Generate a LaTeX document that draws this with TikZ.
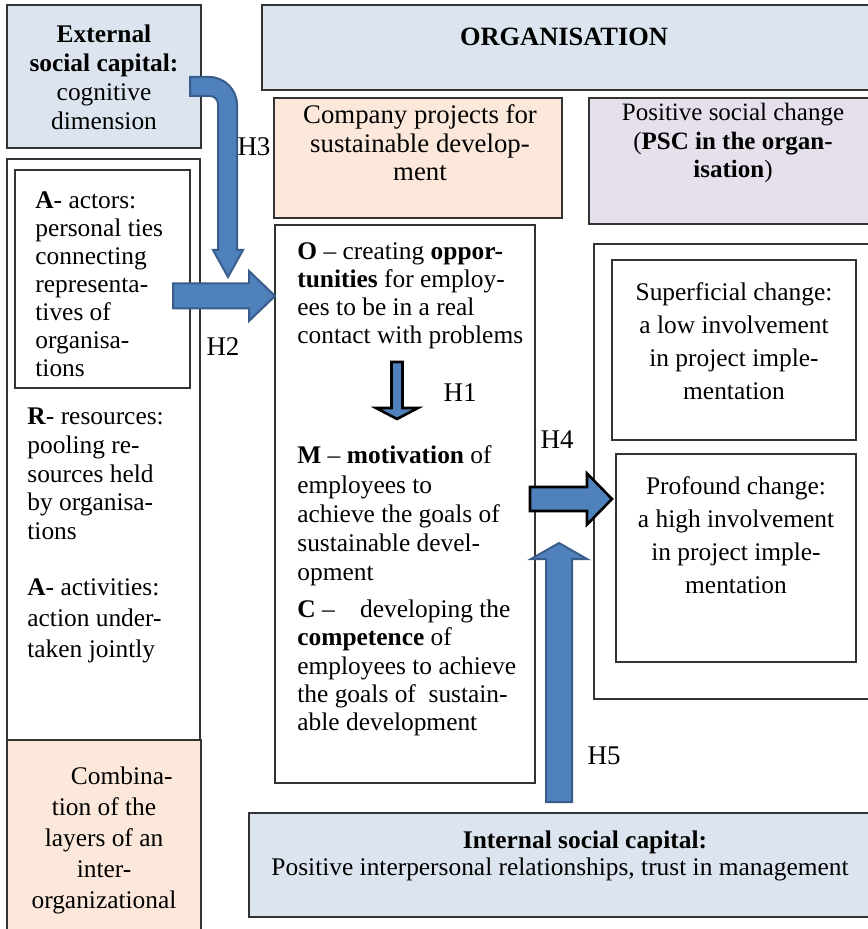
\documentclass[tikz,border=0pt]{standalone}
\usepackage{fontspec}
\setmainfont{Liberation Serif}
\usetikzlibrary{calc}
\definecolor{capblue}{RGB}{220,229,239}
\definecolor{projpeach}{RGB}{252,232,218}
\definecolor{psclilac}{RGB}{229,224,236}
\definecolor{arrowblue}{RGB}{79,129,189}
\definecolor{arrowedge}{RGB}{56,93,138}

\begin{document}
\begin{tikzpicture}[x=0.5pt, y=-0.5pt]
    % Define styles
    \tikzset{
        box/.style={draw=black!80, line width=0.75pt, inner sep=0pt, outer sep=0pt},
        capbox/.style={box, fill=capblue},
        projbox/.style={box, fill=projpeach},
        pscbox/.style={box, fill=psclilac},
        txt/.style={inner sep=0pt, align=center, font=\fontsize{12.7}{14.3}\selectfont},
        lefttxt/.style={txt, anchor=west, align=left},
        hlabel/.style={inner sep=0pt, font=\fontsize{13.5}{15}\selectfont},
        blockarrow/.style={fill=arrowblue, draw=arrowedge, line width=1pt, line join=miter},
        darkarrow/.style={fill=arrowblue, draw=black, line width=1.3pt, line join=miter}
    }
    \useasboundingbox (0,0) rectangle (867,929);

    % Boxes
    \node[capbox, minimum width=97pt, minimum height=71.5pt] (ext) at (104,76.5) {};
    \node[capbox, minimum width=309pt, minimum height=42.5pt] (org) at (571,47.5) {};
    \node[projbox, minimum width=144pt, minimum height=60pt] (proj) at (418,158) {};
    \node[pscbox, minimum width=145.5pt, minimum height=63pt] (psc) at (734.5,161) {};
    \node[box, minimum width=96.5pt, minimum height=290.5pt] (lbox) at (103.5,449.5) {};
    \node[box, minimum width=87.5pt, minimum height=109pt] (actors) at (102.5,279) {};
    \node[projbox, minimum width=97pt, minimum height=97.5pt] (comb) at (104,837.5) {};
    \node[box, minimum width=130pt, minimum height=279pt] (ctr) at (405,504) {};
    \node[box, minimum width=143pt, minimum height=227.5pt] (chg) at (737,471.5) {};
    \node[box, minimum width=122pt, minimum height=90pt] (sup) at (734,350) {};
    \node[box, minimum width=120pt, minimum height=104pt] (prof) at (736,558) {};
    \node[capbox, minimum width=315.5pt, minimum height=52pt] (isc) at (564.5,865) {};

    % Block arrows
    \coordinate (h3tail) at (190,86.5);
    \coordinate (h3tip) at (228,277);
    \draw[blockarrow] ($(h3tail)+(0,-9.5)$) -- ++(19,0) arc[start angle=90, end angle=0, radius=14pt]
        -- ($(h3tip)+(9,-27)$) -- ++(6,0) -- (h3tip) -- ++(-15,-27) -- ++(5,0)
        -- ($(h3tail)+(28,17.5)$) arc[start angle=0, end angle=90, radius=4pt]
        -- ($(h3tail)+(0,9.5)$) -- cycle;

    \coordinate (h2tail) at (173,296);
    \coordinate (h2tip) at (ctr.west |- h2tail);
    \draw[blockarrow] ($(h2tail)+(0,-12.5)$) -- ($(h2tip)+(-26,-12.5)$) -- ($(h2tip)+(-26,-25)$)
        -- (h2tip) -- ($(h2tip)+(-26,25)$) -- ($(h2tip)+(-26,12.5)$) -- ($(h2tail)+(0,12.5)$) -- cycle;

    \coordinate (h1tail) at (397,362);
    \coordinate (h1tip) at (397,419);
    \draw[darkarrow] ($(h1tail)+(-5.5,0)$) -- ($(h1tip)+(-5.5,-11)$) -- ($(h1tip)+(-21,-11)$)
        -- (h1tip) -- ($(h1tip)+(21,-11)$) -- ($(h1tip)+(5.5,-11)$) -- ($(h1tail)+(5.5,0)$) -- cycle;

    \coordinate (h4tail) at (530,499);
    \coordinate (h4tip) at ($(prof.west |- h4tail)+(-4,0)$);
    \draw[darkarrow] ($(h4tail)+(0,-12)$) -- ($(h4tip)+(-25,-12)$) -- ($(h4tip)+(-25,-25.5)$)
        -- (h4tip) -- ($(h4tip)+(-25,25.5)$) -- ($(h4tip)+(-25,12)$) -- ($(h4tail)+(0,12)$) -- cycle;

    \coordinate (h5tail) at ($(isc.north)+(-5.5,-11)$);
    \coordinate (h5tip) at (559,543);
    \draw[blockarrow] ($(h5tail)+(-13,0)$) -- ($(h5tip)+(-13,16)$) -- ($(h5tip)+(-28,16)$)
        -- (h5tip) -- ($(h5tip)+(28,16)$) -- ($(h5tip)+(13,16)$) -- ($(h5tail)+(13,0)$) -- cycle;

    % Texts
    \node[txt, font=\fontsize{12.7}{14.5}\selectfont] (extT) at (104,77)
        {\textbf{External}\\\textbf{social capital:}\\cognitive\\dimension};
    \node[txt, font=\fontsize{13.2}{15}\selectfont] (orgT) at (564,37) {\textbf{ORGANISATION}};
    \node[txt, font=\fontsize{13.4}{14.25}\selectfont] (projT) at (420,143)
        {Company projects for\\sustainable develop-\\ment};
    \node[txt, font=\fontsize{12.5}{14.25}\selectfont] (pscT) at (733,143)
        {Positive social change\\(\textbf{PSC in the organ-}\\\textbf{isation})};
    \node[lefttxt, font=\fontsize{12.7}{14}\selectfont] (actorsT) at (35,284)
        {\textbf{A}- actors:\\personal ties\\connecting\\representa-\\tives of\\organisa-\\tions};
    \node[lefttxt, font=\fontsize{12.7}{14.4}\selectfont] (resT) at (27,474)
        {\textbf{R}- resources:\\pooling re-\\sources held\\by organisa-\\tions};
    \node[lefttxt, font=\fontsize{12.7}{15.5}\selectfont] (actT) at (27,621)
        {\textbf{A}- activities:\\action under-\\taken jointly};
    \node[txt, font=\fontsize{12.7}{15.5}\selectfont] (combT) at (104,840)
        {\hspace*{1.4em}Combina-\\tion of the\\layers of an\\inter-\\organizational};
    \node[lefttxt, font=\fontsize{12.7}{14}\selectfont] (oppT) at (297,296)
        {\textbf{O} -- creating \textbf{oppor-}\\\textbf{tunities} for employ-\\ees to be in a real\\contact with problems};
    \node[lefttxt, font=\fontsize{12.7}{14.6}\selectfont] (motT) at (297,516)
        {\textbf{M} -- \textbf{motivation} of\\employees to\\achieve the goals of\\sustainable devel-\\opment};
    \node[lefttxt, font=\fontsize{12.7}{14.2}\selectfont] (compT) at (297,668)
        {\textbf{C} --\quad developing the\\\textbf{competence} of\\employees to achieve\\the goals of\ \ sustain-\\able development};
    \node[txt, font=\fontsize{12.7}{16.5}\selectfont] (supT) at (734,341)
        {Superficial change:\\a low involvement\\in project imple-\\mentation};
    \node[txt, font=\fontsize{12.7}{16.5}\selectfont] (profT) at (736,535)
        {Profound change:\\a high involvement\\in project imple-\\mentation};
    \node[txt, font=\fontsize{12.7}{13.5}\selectfont] (iscT) at (560,856)
        {\hspace*{25pt}\textbf{Internal social capital:}\\Positive interpersonal relationships, trust in management};

    % Hypothesis labels
    \node[hlabel] (h1) at (460,393) {H1};
    \node[hlabel] (h2) at (223,347) {H2};
    \node[hlabel] (h3) at (254,147) {H3};
    \node[hlabel] (h4) at (557,440) {H4};
    \node[hlabel] (h5) at (604,756) {H5};
\end{tikzpicture}
\end{document}
